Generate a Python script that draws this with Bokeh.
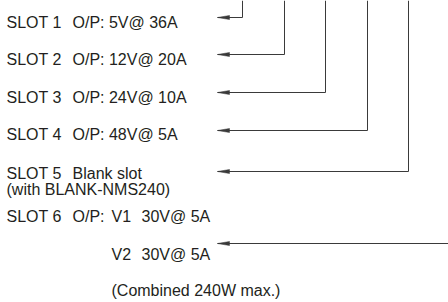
from bokeh.plotting import figure
from bokeh.models import Range1d, ColumnDataSource
from bokeh.core.properties import value
from bokeh.embed import file_html
from bokeh.resources import INLINE

# ---- diagram data (pixel coordinates of the picture) ----
slot_labels = ["SLOT 1", "SLOT 2", "SLOT 3", "SLOT 4", "SLOT 5", "SLOT 6"]
slot_outputs = ["O/P: 5V@ 36A", "O/P: 12V@ 20A", "O/P: 24V@ 10A", "O/P: 48V@ 5A", "Blank slot", "O/P:"]
label_y = [22, 59, 96.5, 134, 173, 216]
label_x = 6
output_x = 72

extra_texts = ["(with BLANK-NMS240)", "V1", "30V@ 5A", "V2", "30V@ 5A", "(Combined 240W max.)"]
extra_x = [6, 111, 141, 111, 141, 111]
extra_y = [189, 216, 216, 253.5, 253.5, 290]

arrow_y = [17, 54, 92, 130, 171, 243]
turn_x = [242, 284, 325, 367, 408, 448]
top_y = [0, 0, 0, 0, 0, None]
tip_x = 217
head_len = 12
head_half = 2

TEXT_COLOR = "#231f20"
LINE_COLOR = "#3a3a3a"
FONT = value("Liberation Sans")
FSIZE = "16px"

p = figure(width=448, height=302, output_backend="svg", toolbar_location=None,
           x_range=Range1d(0, 448), y_range=Range1d(302, 0), min_border=0)
p.axis.visible = False
p.grid.visible = False
p.outline_line_color = None
p.background_fill_color = "white"

# texts
src1 = ColumnDataSource(dict(x=[label_x] * len(slot_labels), y=label_y, t=slot_labels))
p.text(x="x", y="y", text="t", source=src1, text_font=FONT,
       text_font_size=FSIZE, text_color=TEXT_COLOR, text_baseline="alphabetic")
src2 = ColumnDataSource(dict(x=[output_x] * len(slot_outputs), y=label_y, t=slot_outputs))
p.text(x="x", y="y", text="t", source=src2, text_font=FONT,
       text_font_size=FSIZE, text_color=TEXT_COLOR, text_baseline="alphabetic")
src3 = ColumnDataSource(dict(x=extra_x, y=extra_y, t=extra_texts))
p.text(x="x", y="y", text="t", source=src3, text_font=FONT,
       text_font_size=FSIZE, text_color=TEXT_COLOR, text_baseline="alphabetic")

# leader lines
xs, ys = [], []
for y, tx, ty in zip(arrow_y, turn_x, top_y):
    if ty is None:
        xs.append([tip_x, tx])
        ys.append([y, y])
    else:
        xs.append([tip_x, tx, tx])
        ys.append([y, y, ty])
p.multi_line(xs=xs, ys=ys, line_color=LINE_COLOR, line_width=1)

# arrow heads
hx, hy = [], []
for y in arrow_y:
    hx.append([tip_x, tip_x + head_len, tip_x + head_len])
    hy.append([y, y - head_half, y + head_half])
p.patches(xs=hx, ys=hy, fill_color=LINE_COLOR, line_color=LINE_COLOR, line_width=0.5)

open("out.html", "w").write(file_html(p, INLINE))
